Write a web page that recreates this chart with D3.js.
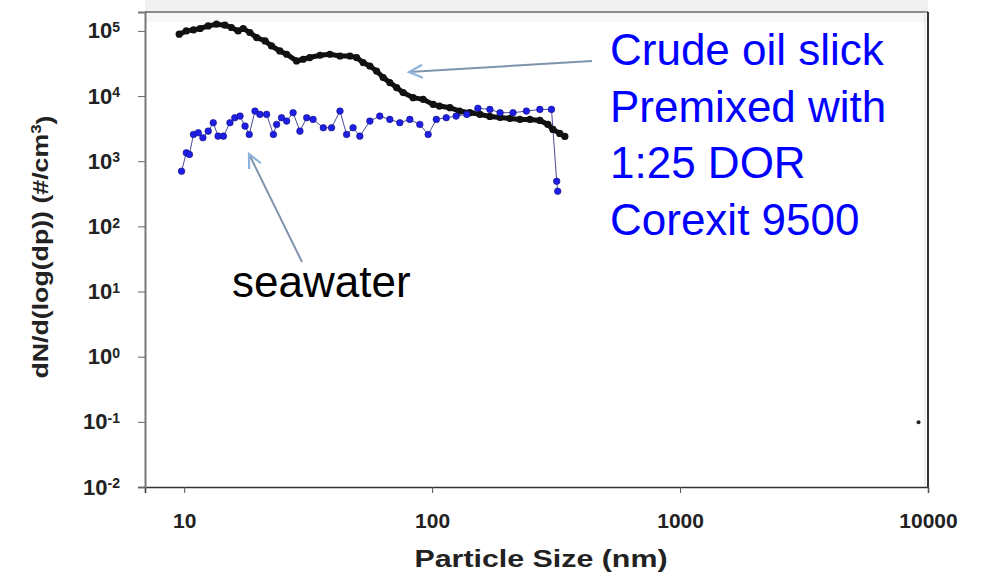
<!DOCTYPE html>
<html>
<head>
<meta charset="utf-8">
<script src="https://cdn.jsdelivr.net/npm/d3@7/dist/d3.min.js"></script>
<style>
  body { margin: 0; background: #fff; }
  svg { display: block; font-family: "Liberation Sans", Arial, sans-serif; }
</style>
</head>
<body>
<div id="chart"></div>
<script>
"use strict";
//particle size distribution
//crude oil slick premixed with dispersant (black)
var oilSize = [9.55, 10.2, 10.9, 11.6, 12.5, 13.5, 14.6, 15.5, 16.5, 17.3, 18.4, 19.6, 21.2, 22.5,
  24.3, 25.9, 28.4, 30.2, 32.1, 35.3, 38.7, 42.5, 46.6, 49.6, 52.7, 56.1, 59.7, 63.5, 67.5, 71.9,
  76.4, 83.8, 92.0, 101, 107, 118, 129, 142, 156, 171, 188, 206, 226, 248, 272, 293, 307, 327, 343];
var oilConc = [89000, 100000, 103600, 108900, 119400, 126800, 122400, 112800, 100000, 108900, 94500,
  79100, 70200, 58800, 49200, 43800, 34600, 36700, 39000, 42300, 43800, 41200, 41200, 39000, 32700,
  28900, 24200, 19200, 16100, 13500, 11300, 9450, 8900, 7450, 7020, 6630, 5880, 5550, 5230, 4870,
  4700, 4540, 4380, 4380, 4230, 3670, 3070, 2670, 2400];

//seawater (blue)
var seaSize = [9.76, 10.2, 10.5, 10.9, 11.4, 11.9, 12.5, 13.1, 13.7, 14.4, 15.3, 16.0, 16.8, 17.6,
  18.3, 19.3, 20.2, 21.5, 22.9, 23.6, 24.7, 25.9, 27.5, 29.3, 31.2, 33.1, 36.4, 39.3, 42.5, 45.2,
  48.0, 51.1, 56.1, 61.5, 67.5, 74.1, 81.3, 89.2, 96.4, 104, 114, 125, 138, 153, 171, 188, 212,
  240, 272, 303, 318, 321];
var seaConc = [702, 1346, 1268, 2575, 2733, 2291, 2893, 3898, 2424, 2424, 3898, 4652, 4924, 3455,
  2575, 5876, 5231, 5231, 2575, 3669, 4652, 4124, 5554, 2893, 4652, 4380, 3265, 3265, 5876, 2575,
  3265, 2424, 4124, 4924, 4380, 3898, 4380, 3669, 2575, 4380, 4652, 4924, 5231, 6500, 6235, 5554,
  5554, 5876, 6235, 6235, 492, 346];

//lone point near the right border
var straySize = [9160];
var strayConc = [0.099];

var xTicks = [10, 100, 1000, 10000];
var yTicks = [1e-2, 1e-1, 1e0, 1e1, 1e2, 1e3, 1e4, 1e5];

var noteLines = ["Crude oil slick", "Premixed with", "1:25 DOR", "Corexit 9500"];

var w = 982,
  h = 578;
var padL = 145,
  padR = 928,
  padT = 12,
  padB = 487;

var svg = d3
  .select("#chart")
  .append("svg")
  .attr("width", w)
  .attr("height", h);

var x = d3
  .scaleLog()
  .domain([6.95, 10000])
  .range([padL, padR]);

var y = d3
  .scaleLog()
  .domain([0.01, Math.pow(10, 5.29)])
  .range([padB, padT]);

//grey strip above the frame
svg.append("rect").attr("x", padL).attr("y", 0).attr("width", padR - padL).attr("height", padT).attr("fill", "#f0f0f0");
svg.append("rect").attr("x", padL).attr("y", padT).attr("width", padR - padL).attr("height", 10).attr("fill", "#f7f7f7");

//frame
svg.append("line").attr("x1", padL).attr("x2", padR).attr("y1", padT).attr("y2", padT)
  .attr("stroke", "#8a8a8a").attr("stroke-width", 2);
svg.append("line").attr("x1", padR).attr("x2", padR).attr("y1", padT).attr("y2", padB)
  .attr("stroke", "#333").attr("stroke-width", 2);
svg.append("line").attr("x1", padR - 3).attr("x2", padR - 3).attr("y1", padT).attr("y2", padB)
  .attr("stroke", "#ddd").attr("stroke-width", 1);

//axes
var xAxis = d3
  .axisBottom(x)
  .tickValues(xTicks)
  .tickSize(6)
  .tickPadding(20)
  .tickFormat(d3.format("d"));

var gx = svg
  .append("g")
  .attr("transform", "translate(0," + padB + ")")
  .call(xAxis);
gx.select(".domain").attr("stroke", "#333").attr("stroke-width", 1.5);
gx.selectAll(".tick line").attr("stroke", "#555");
gx.selectAll(".tick text")
  .attr("font-size", 21)
  .attr("font-weight", "bold")
  .attr("fill", "#222");

var yAxis = d3
  .axisLeft(y)
  .tickValues(yTicks)
  .tickSize(7)
  .tickPadding(18)
  .tickFormat("");

var gy = svg
  .append("g")
  .attr("transform", "translate(" + padL + ",0)")
  .call(yAxis);
gy.select(".domain").attr("stroke", "#777").attr("stroke-width", 2);
gy.selectAll(".tick line").attr("stroke", "#666");
gy.selectAll(".tick text")
  .attr("font-size", 22)
  .attr("font-weight", "bold")
  .attr("fill", "#222")
  .each(function(d) {
    var t = d3.select(this);
    t.append("tspan").text("10");
    t.append("tspan")
      .attr("dy", "-0.45em")
      .attr("font-size", 14)
      .text(Math.round(Math.log10(d)));
  });

//axis titles
svg.append("text")
  .attr("x", 541)
  .attr("y", 567)
  .attr("text-anchor", "middle")
  .attr("font-size", 24)
  .attr("font-weight", "bold")
  .attr("fill", "#222")
  .attr("textLength", 253)
  .attr("lengthAdjust", "spacingAndGlyphs")
  .text("Particle Size (nm)");

var yt = svg.append("text")
  .attr("transform", "translate(48,247) rotate(-90)")
  .attr("text-anchor", "middle")
  .attr("font-size", 22)
  .attr("font-weight", "bold")
  .attr("fill", "#222")
  .attr("textLength", 263)
  .attr("lengthAdjust", "spacingAndGlyphs");
yt.append("tspan").text("dN/d(log(dp)) (#/cm");
yt.append("tspan").attr("dy", "-0.5em").attr("font-size", 14).text("3");
yt.append("tspan").attr("dy", "0.5em").text(")");

//series
var line = d3
  .line()
  .x(function(d) {
    return x(d[0]);
  })
  .y(function(d) {
    return y(d[1]);
  });

var oil = d3.zip(oilSize, oilConc);
var sea = d3.zip(seaSize, seaConc);
var stray = d3.zip(straySize, strayConc);

svg.append("path")
  .datum(sea)
  .attr("d", line)
  .attr("fill", "none")
  .attr("stroke", "#4a4a9a")
  .attr("stroke-width", 1);

svg.append("path")
  .datum(oil)
  .attr("d", line)
  .attr("fill", "none")
  .attr("stroke", "#111")
  .attr("stroke-width", 5);

svg.append("g")
  .selectAll("circle")
  .data(oil)
  .enter()
  .append("circle")
  .attr("cx", function(d) {
    return x(d[0]);
  })
  .attr("cy", function(d) {
    return y(d[1]);
  })
  .attr("r", 3.6)
  .attr("fill", "#111");

svg.append("g")
  .selectAll("circle")
  .data(sea)
  .enter()
  .append("circle")
  .attr("cx", function(d) {
    return x(d[0]);
  })
  .attr("cy", function(d) {
    return y(d[1]);
  })
  .attr("r", 3.3)
  .attr("fill", "#1e1ee6")
  .attr("stroke", "#10107a")
  .attr("stroke-width", 0.6);

svg.append("g")
  .selectAll("circle")
  .data(stray)
  .enter()
  .append("circle")
  .attr("cx", function(d) {
    return x(d[0]);
  })
  .attr("cy", function(d) {
    return y(d[1]);
  })
  .attr("r", 2)
  .attr("fill", "#222");

//annotations and arrows
function arrow(x1, y1, x2, y2) {
  var a = Math.atan2(y2 - y1, x2 - x1),
    len = 15,
    spread = 0.45;
  svg.append("line")
    .attr("x1", x1).attr("y1", y1).attr("x2", x2).attr("y2", y2)
    .attr("stroke", "#7f94ab").attr("stroke-width", 2);
  var p1 = [x2 - len * Math.cos(a - spread), y2 - len * Math.sin(a - spread)];
  var p2 = [x2 - len * Math.cos(a + spread), y2 - len * Math.sin(a + spread)];
  svg.append("path")
    .attr("d", "M" + p1 + "L" + [x2, y2] + "L" + p2)
    .attr("fill", "none")
    .attr("stroke", "#8db4dc")
    .attr("stroke-width", 2.2);
}

arrow(592, 61, 409, 72);
arrow(302, 262, 249, 154);

svg.append("g")
  .selectAll("text")
  .data(noteLines)
  .enter()
  .append("text")
  .attr("x", 610)
  .attr("y", function(d, i) {
    return 65 + i * 56.5;
  })
  .attr("font-size", 44)
  .attr("fill", "#0000ff")
  .text(function(d) {
    return d;
  });

svg.append("text")
  .attr("x", 232)
  .attr("y", 297)
  .attr("font-size", 44)
  .attr("fill", "#000")
  .text("seawater");
</script>
</body>
</html>
